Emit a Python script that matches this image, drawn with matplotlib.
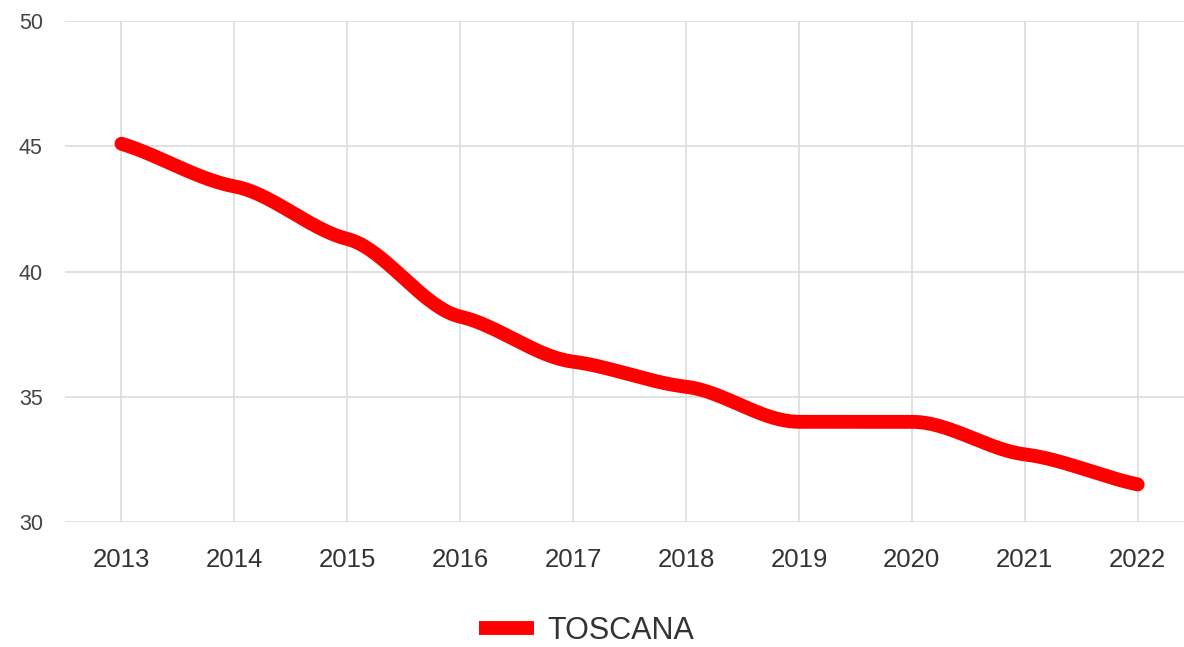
import numpy as np
import matplotlib.pyplot as plt
from matplotlib.lines import Line2D

YEARS = [2013, 2014, 2015, 2016, 2017, 2018, 2019, 2020, 2021, 2022]
TOSCANA = [45.1, 43.4, 41.3, 38.2, 36.4, 35.4, 34.0, 34.0, 32.7, 31.5]
Y_TICKS = [30, 35, 40, 45, 50]

RED = "#ff0000"
GRID = "#dcdcdc"
TEXT = "#333333"


def smooth_curve(x, y, k=0.45, n=40):
    # curva smussata tra i punti (tangenti monotone ridotte), solo per il disegno
    x = np.asarray(x, float)
    y = np.asarray(y, float)
    h = np.diff(x)
    d = np.diff(y) / h
    m = np.zeros_like(y)
    m[0], m[-1] = d[0] * 0.8, d[-1] * 0.8
    for i in range(1, len(y) - 1):
        if d[i - 1] * d[i] > 0:
            m[i] = k * 2.0 / (1.0 / d[i - 1] + 1.0 / d[i])
    xs, ys = [], []
    for i in range(len(x) - 1):
        t = np.linspace(0, 1, n, endpoint=(i == len(x) - 2))
        h00 = 2 * t**3 - 3 * t**2 + 1
        h10 = t**3 - 2 * t**2 + t
        h01 = -2 * t**3 + 3 * t**2
        h11 = t**3 - t**2
        xs.append(x[i] + t * h[i])
        ys.append(h00 * y[i] + h10 * h[i] * m[i] + h01 * y[i + 1] + h11 * h[i] * m[i + 1])
    return np.concatenate(xs), np.concatenate(ys)


plt.rcParams["font.family"] = ["Liberation Sans", "DejaVu Sans"]

fig = plt.figure(figsize=(11.84, 6.47), dpi=100)
ax = fig.add_axes([65 / 1184, 1 - 522 / 647, 1 - 65 / 1184, (522 - 21) / 647])

xs, ys = smooth_curve(YEARS, TOSCANA)
ax.plot(xs, ys, color=RED, linewidth=10, solid_capstyle="round",
        solid_joinstyle="round", zorder=3)

ax.set_xlim(2012.5, 2022.41)
ax.set_ylim(30, 50)
ax.set_xticks(YEARS)
ax.set_yticks(Y_TICKS)
ax.grid(True, color=GRID, linewidth=1.2)
ax.set_axisbelow(True)
for s in ax.spines.values():
    s.set_visible(False)
ax.tick_params(axis="both", length=0)
ax.tick_params(axis="x", labelsize=18.5, colors=TEXT, pad=19)
ax.tick_params(axis="y", labelsize=15.5, colors="#444444", pad=16)

handle = Line2D([], [], color=RED, linewidth=10, solid_capstyle="butt")
fig.legend([handle], ["TOSCANA"], loc="center", bbox_to_anchor=(0.4954, 1 - 631 / 647),
           frameon=False, fontsize=22, handlelength=1.8, handletextpad=0.46,
           labelcolor=TEXT)

fig.savefig("out.png", dpi=100)
